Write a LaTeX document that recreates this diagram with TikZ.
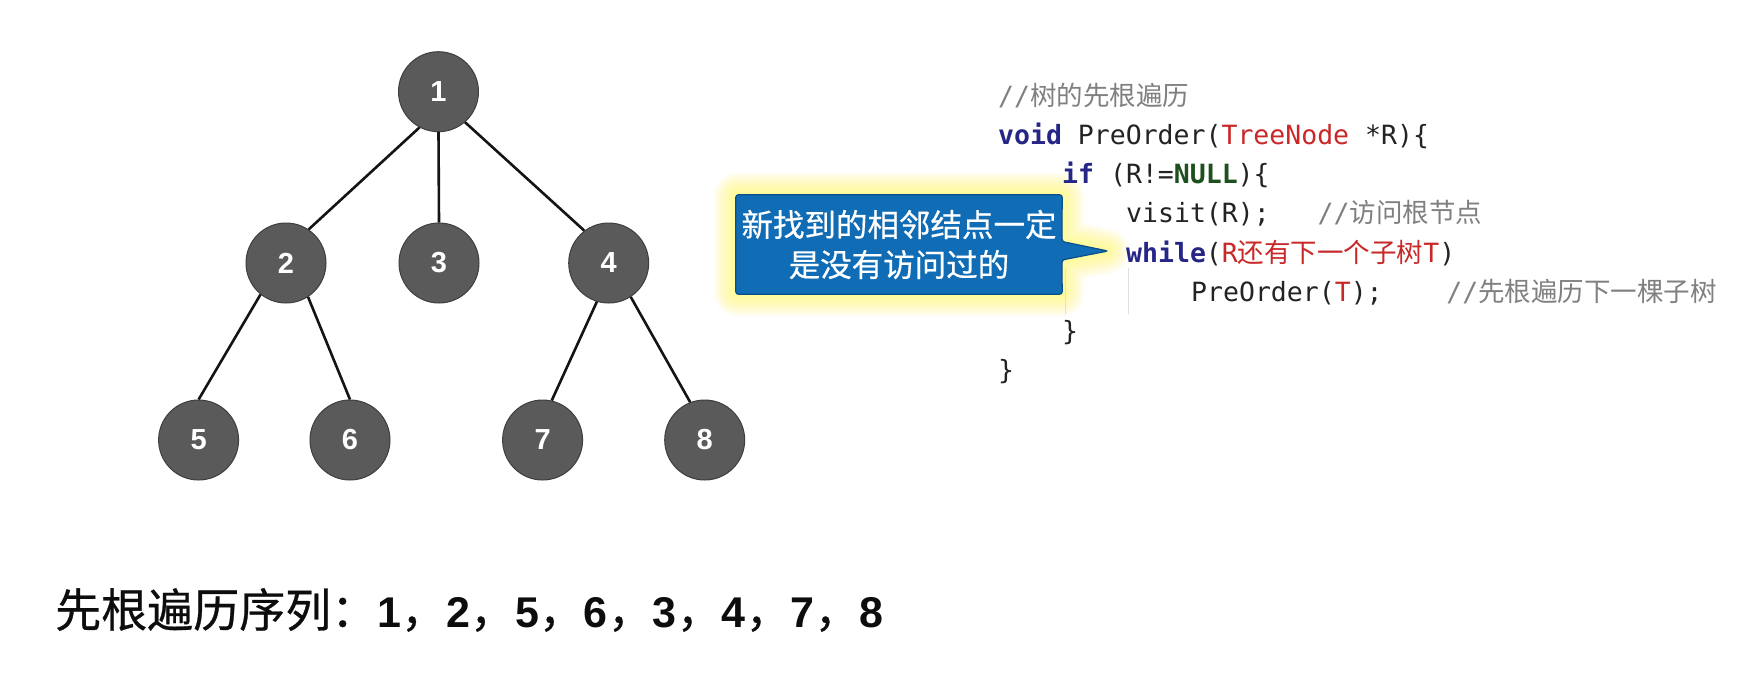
\documentclass[tikz,border=0pt]{standalone}
\usepackage{fontspec}
\setmainfont{Liberation Sans}
\newfontfamily\cjk{Noto Sans CJK SC}
\newfontfamily\cjkseq[FakeBold=0.6]{Noto Sans CJK SC}
\newfontfamily\cjkcall[FakeBold=0.5]{Noto Sans CJK SC}
\newfontfamily\mono{DejaVu Sans Mono}
\usetikzlibrary{backgrounds}
\definecolor{nodefill}{RGB}{90,90,90}
\definecolor{nodeborder}{RGB}{62,62,62}
\definecolor{kwcol}{RGB}{38,38,135}
\definecolor{redcol}{RGB}{200,40,40}
\definecolor{nulcol}{RGB}{28,80,28}
\definecolor{cmcol}{RGB}{128,128,128}
\definecolor{codetext}{RGB}{35,35,35}
\definecolor{callfill}{RGB}{16,108,180}
\definecolor{callborder}{RGB}{10,78,140}
\definecolor{glowcol}{RGB}{255,250,90}
\newcommand\cKw[1]{{\bfseries\color{kwcol}#1}}
\newcommand\cRed[1]{{\color{redcol}#1}}
\newcommand\cNul[1]{{\bfseries\color{nulcol}#1}}
\newcommand\cCm[1]{{\color{cmcol}#1}}
\newcommand\seqcomma{{\cjkseq\fontsize{45}{50}\selectfont ，}}
\newcommand\seqnum[1]{{\bfseries\fontsize{43}{50}\selectfont #1}}
\tikzset{
  tnode/.style={circle, fill=nodefill, draw=nodeborder, line width=1pt,
    minimum size=80pt, inner sep=0pt, text=white, font=\bfseries\fontsize{29}{29}\selectfont},
  tedge/.style={line width=2.6pt, draw=black!92},
  code/.style={anchor=base west, inner sep=0pt, font=\mono\fontsize{26.5}{30}\selectfont, text=codetext},
  guide/.style={draw=black!12, line width=1pt},
  calloutbox/.style={minimum width=326pt, minimum height=99pt, inner sep=0pt,
    align=center, text=white, font=\cjkcall\fontsize{31.5}{40}\selectfont},
  calloutpath/.style={insert path={[rounded corners=2.5pt] (cb.west) -- (cb.north west) -- (cb.north east)
    -- (ptop) -- (tip) -- (pbot) -- (cb.south east) -- (cb.south west) -- cycle}}
}
\begin{document}
\begin{tikzpicture}[x=1pt, y=-1pt]
\useasboundingbox (0,0) rectangle (1762,686);

% tree
\node[tnode] (n1) at (438.5,91.7) {1};
\node[tnode] (n2) at (286,263) {2};
\node[tnode] (n3) at (439,263) {3};
\node[tnode] (n4) at (608.7,263) {4};
\node[tnode] (n5) at (198.6,440) {5};
\node[tnode] (n6) at (350,440) {6};
\node[tnode] (n7) at (542.6,440) {7};
\node[tnode] (n8) at (704.7,440) {8};
\draw[tedge] (n1.242) -- (n2.56);
\draw[tedge] (n1.south) -- (n3.north);
\draw[tedge] (n1.311) -- (n4.127);
\draw[tedge] (n2.231) -- (n5.north);
\draw[tedge] (n2.303) -- (n6.north);
\draw[tedge] (n4.253) -- (n7.77);
\draw[tedge] (n4.303) -- (n8.111);

% code
\draw[guide] (1065,268) -- (1065,314);
\draw[guide] (1128,268) -- (1128,314);
\node[code] (c1) at (998,105) {\cCm{//{\cjk 树的先根遍历}}};
\node[code] (c2) at (998,144) {\cKw{void} PreOrder(\cRed{TreeNode} *R)\{};
\node[code] (c3) at (1062,183) {\cKw{if} (R!=\cNul{NULL})\{};
\node[code] (c4) at (1126,222.5) {visit(R);~~~\cCm{//{\cjk 访问根节点}}};
\node[code] (c5) at (1126,262) {\cKw{while}(\cRed{R{\cjk 还有下一个子树}T})};
\node[code] (c6) at (1191,301) {PreOrder(\cRed{T});~~~~\cCm{//{\cjk 先根遍历下一棵子树}}};
\node[code] (c7) at (1062,340) {\}};
\node[code] (c8) at (998,379) {\}};

% callout
\node[calloutbox] (cb) at (899,244.5) {新找到的相邻结点一定\\是没有访问过的};
\coordinate (ptop) at (1062,241.5);
\coordinate (pbot) at (1062,260);
\coordinate (tip) at (1108,251);
\begin{scope}[on background layer]
  \fill[white] (0,0) rectangle (1762,686);
  \foreach \g in {1,...,14} {
    \draw[glowcol, opacity=0.06, line width=\g*3.2pt, line join=round, calloutpath];
  }
  \filldraw[fill=callfill, draw=callborder, line width=1.2pt, calloutpath];
\end{scope}

% sequence
\node[anchor=base west, inner sep=0pt, text=black!95] (seq) at (55,627)
  {{\cjkseq\fontsize{46}{50}\selectfont 先根遍历序列：}\seqnum{1}\seqcomma\seqnum{2}\seqcomma\seqnum{5}\seqcomma\seqnum{6}\seqcomma\seqnum{3}\seqcomma\seqnum{4}\seqcomma\seqnum{7}\seqcomma\seqnum{8}};
\end{tikzpicture}
\end{document}
